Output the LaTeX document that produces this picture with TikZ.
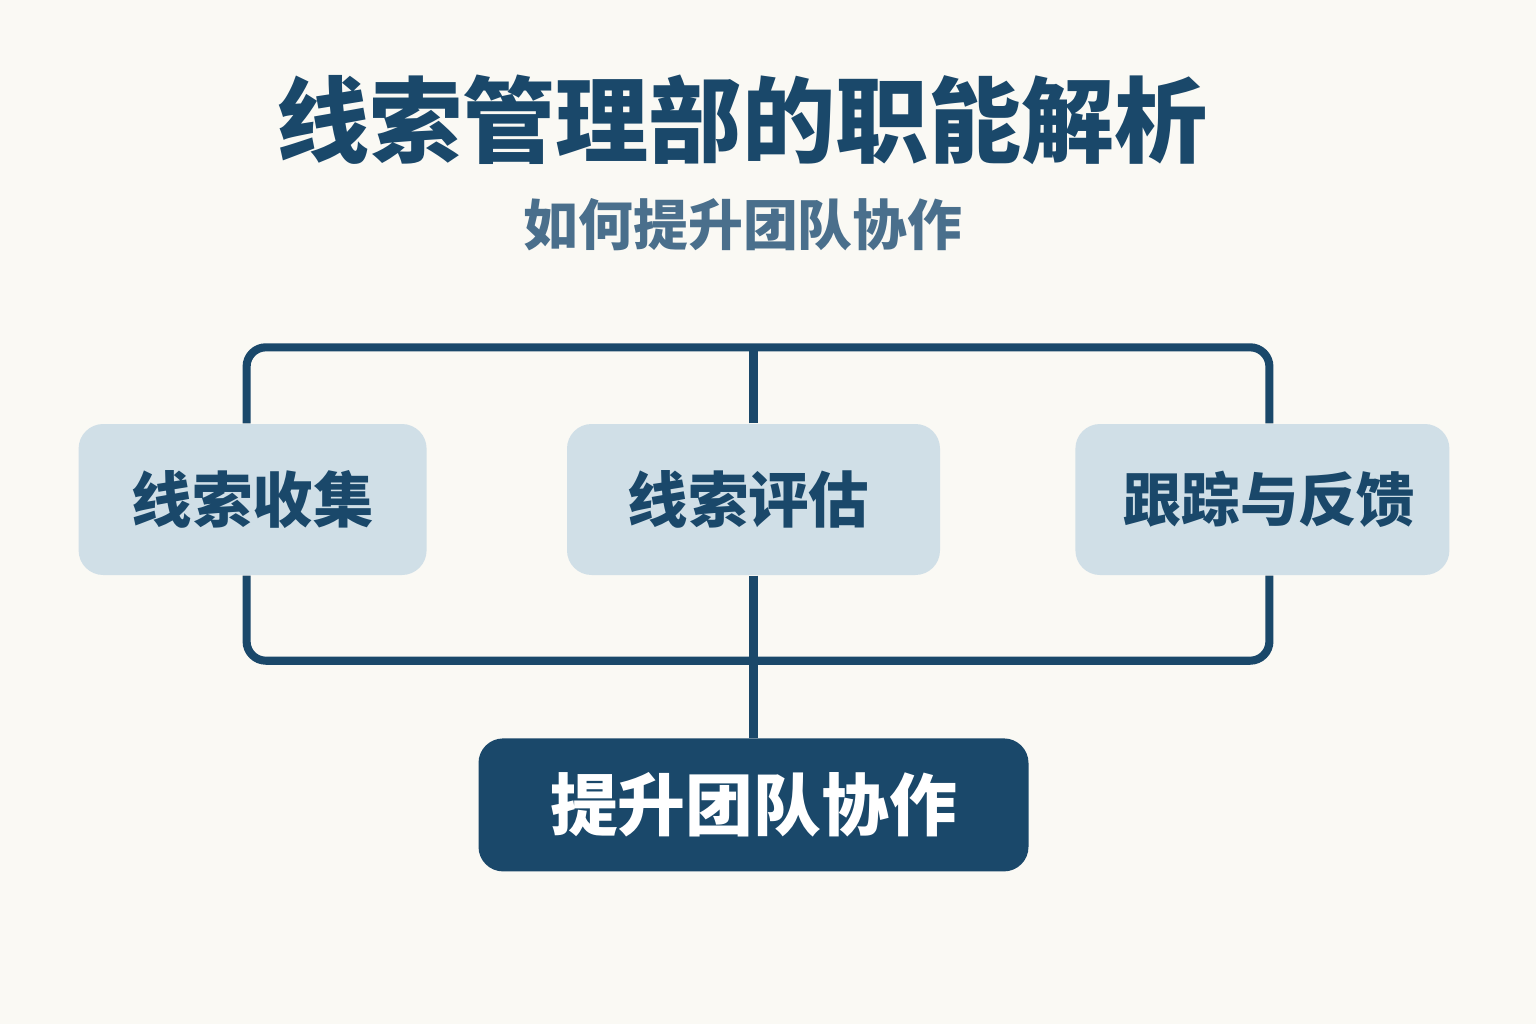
\documentclass[tikz,border=0pt]{standalone}
\usepackage{fontspec}
\usepackage{xcolor}
\usepackage{tikz}
\usetikzlibrary{positioning,calc}
\newfontfamily\cjk{Noto Sans CJK SC}
\definecolor{leadnavy}{RGB}{26, 72, 106}
\definecolor{leadsteel}{RGB}{74, 111, 140}
\definecolor{leadpale}{RGB}{208, 223, 231}
\definecolor{leadpaper}{RGB}{250, 249, 244}

\begin{document}
\begin{tikzpicture}[node distance=1.4cm and 1.4cm,
  title/.style={font=\cjk\bfseries\fontsize{26.5}{30}\selectfont, text=leadnavy, inner sep=0pt},
  subtitle/.style={font=\cjk\bfseries\fontsize{15.6}{18}\selectfont, text=leadsteel, inner sep=0pt},
  duty/.style={fill=leadpale, rounded corners=7pt, minimum height=1.51cm, align=center, text=leadnavy, font=\cjk\bfseries\fontsize{17.2}{20}\selectfont},
  goal/.style={fill=leadnavy, rounded corners=7pt, minimum width=5.5cm, minimum height=1.33cm, align=center, text=white, font=\cjk\bfseries\fontsize{19.3}{22}\selectfont},
  link/.style={draw=leadnavy, line width=2.3pt, rounded corners=5.5pt}
]

  % Canvas
  \fill [leadpaper] (0,0) rectangle (15.36,10.24);
  \useasboundingbox (0,0) rectangle (15.36,10.24);

  % Headings
  \node [title] (head) at (7.42,9.04) {线索管理部的职能解析};
  \node [subtitle] (sub) at (7.43,7.99) {如何提升团队协作};

  % Duty Boxes
  \node [duty, minimum width=3.73cm] (assess) at (7.535,5.245) {\hspace{-0.1cm}线索评估};
  \node [duty, minimum width=3.48cm, left=1.39cm of assess] (collect) {线索收集};
  \node [duty, minimum width=3.74cm, right=1.34cm of assess] (track) {\hspace{0.14cm}\fontsize{16.6}{20}\selectfont 跟踪与反馈};

  % Goal Box
  \node [goal, below=1.62cm of assess] (team) {提升团队协作};

  % Upper Bracket
  \draw [link] ([xshift=-0.06cm]collect.north) -- ++(0,0.76) coordinate (topL) -| ([xshift=0.07cm]track.north);
  \draw [link] (assess.north) -- (assess.north |- topL);

  % Lower Bracket
  \draw [link] ([xshift=-0.06cm]collect.south) -- ++(0,-0.85) coordinate (botL) -| ([xshift=0.07cm]track.south);
  \draw [link] (assess.south) -- (team.north -| assess.south);

\end{tikzpicture}
\end{document}
